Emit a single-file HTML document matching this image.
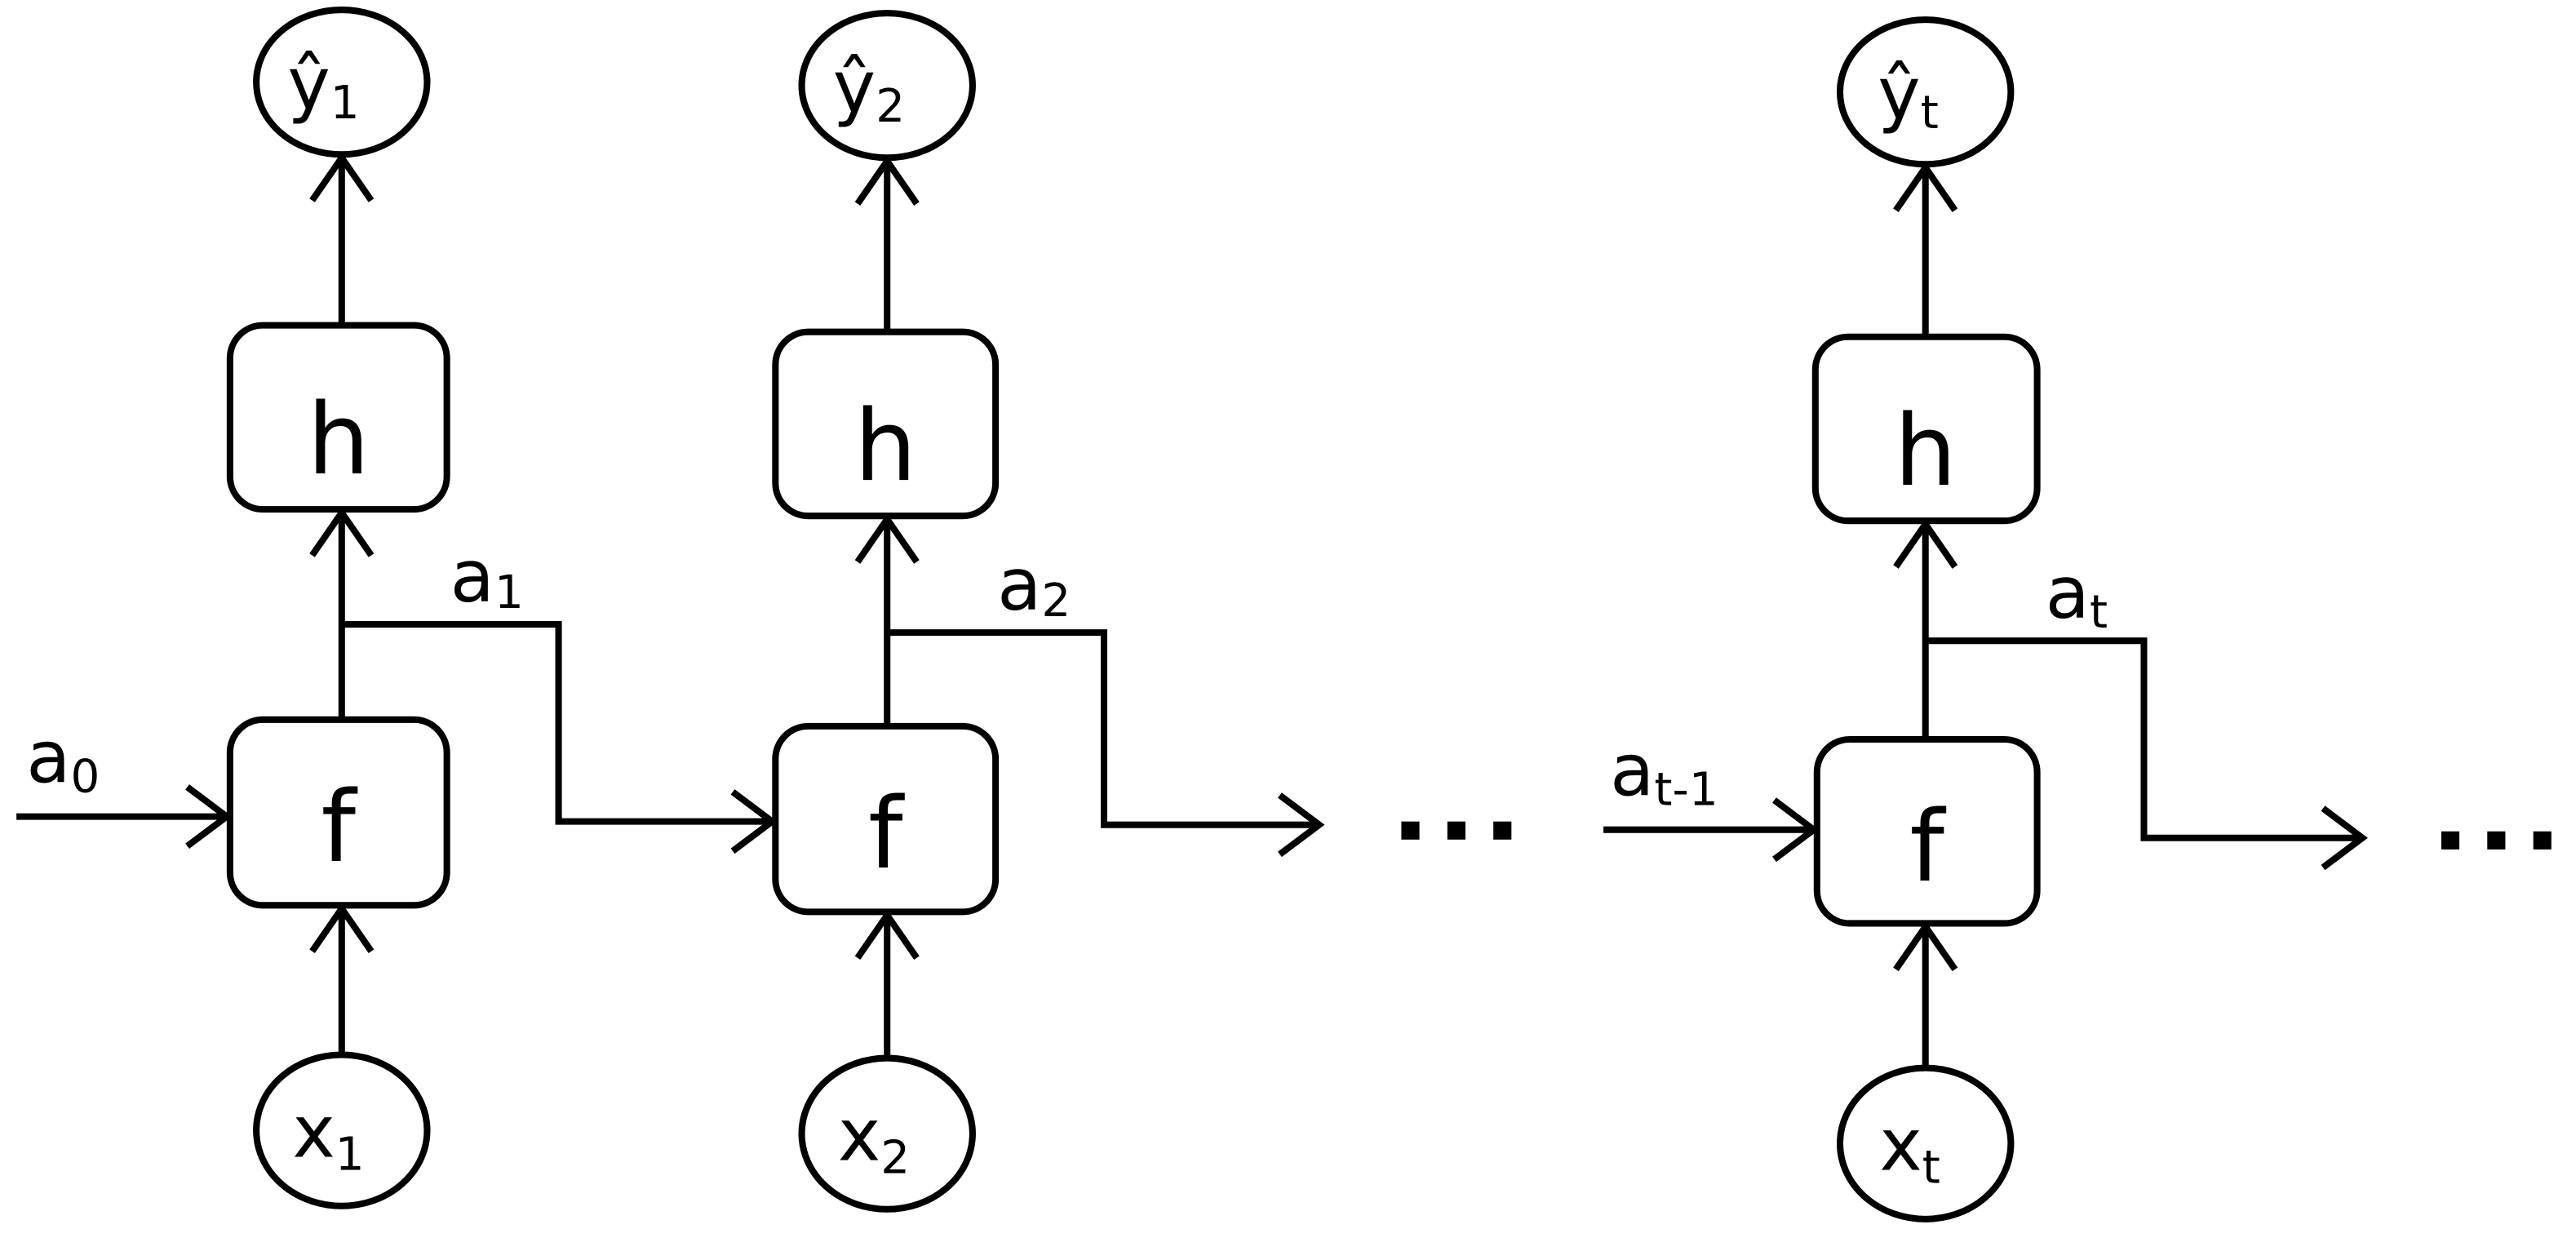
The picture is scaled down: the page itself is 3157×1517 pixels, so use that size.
<!DOCTYPE html>
<html><head><meta charset="utf-8"><style>
html,body{margin:0;padding:0;background:#fff;width:3157px;height:1517px;overflow:hidden}
svg{display:block}
text{font-family:"DejaVu Sans","Liberation Sans",sans-serif;fill:#000}
</style></head><body>
<svg width="3157" height="1517" viewBox="0 0 1568 753.5" preserveAspectRatio="none" xmlns="http://www.w3.org/2000/svg">
<g fill="none" stroke="#000" stroke-width="4">
<!-- column 1 -->
<ellipse cx="208" cy="50" rx="52" ry="44"/>
<rect x="140" y="198" width="132" height="112" rx="20"/>
<rect x="140" y="438" width="132" height="113" rx="20"/>
<ellipse cx="208" cy="688" rx="52" ry="46"/>
<line x1="208" y1="198" x2="208" y2="96"/><polyline points="190,122 208,96 226,122"/>
<line x1="208" y1="438" x2="208" y2="312"/><polyline points="190,338 208,312 226,338"/>
<line x1="208" y1="642" x2="208" y2="553"/><polyline points="190,579 208,553 226,579"/>
<polyline points="208,380 340,380 340,500 470,500"/><polyline points="446,482 470,500 446,518"/>
<line x1="10" y1="497" x2="138" y2="497"/><polyline points="114,479 138,497 114,515"/>
<!-- column 2 -->
<ellipse cx="540" cy="52" rx="52" ry="44"/>
<rect x="472" y="202" width="134" height="112" rx="20"/>
<rect x="472" y="442" width="134" height="113" rx="20"/>
<ellipse cx="540" cy="690" rx="52" ry="46"/>
<line x1="540" y1="202" x2="540" y2="98"/><polyline points="522,124 540,98 558,124"/>
<line x1="540" y1="442" x2="540" y2="316"/><polyline points="522,342 540,316 558,342"/>
<line x1="540" y1="644" x2="540" y2="557"/><polyline points="522,583 540,557 558,583"/>
<polyline points="540,385 672,385 672,502 803,502"/><polyline points="779,484 803,502 779,520"/>
<!-- column 3 -->
<ellipse cx="1172" cy="56" rx="52" ry="44"/>
<rect x="1105" y="205" width="135" height="112" rx="20"/>
<rect x="1106" y="450" width="134" height="112" rx="20"/>
<ellipse cx="1172" cy="696" rx="52" ry="46"/>
<line x1="1172" y1="205" x2="1172" y2="102"/><polyline points="1154,128 1172,102 1190,128"/>
<line x1="1172" y1="450" x2="1172" y2="319"/><polyline points="1154,345 1172,319 1190,345"/>
<line x1="1172" y1="650" x2="1172" y2="564"/><polyline points="1154,590 1172,564 1190,590"/>
<polyline points="1172,390 1305,390 1305,510 1438,510"/><polyline points="1414,492 1438,510 1414,528"/>
<line x1="976" y1="505" x2="1104" y2="505"/><polyline points="1080,487 1104,505 1080,523"/>
</g>
<g fill="#000">
<rect x="853" y="500" width="11" height="11"/><rect x="881" y="500" width="11" height="11"/><rect x="909" y="500" width="11" height="11"/>
<rect x="1486" y="506" width="11" height="11"/><rect x="1514" y="506" width="11" height="11"/><rect x="1542" y="506" width="11" height="11"/>
</g>
<g font-size="60" text-anchor="middle">
<text x="206" y="288">h</text><text x="206" y="524">f</text>
<text x="539" y="292">h</text><text x="539" y="528">f</text>
<text x="1172" y="295">h</text><text x="1173" y="536">f</text>
</g>
<g font-size="44">
<text x="175" y="66">ŷ<tspan font-size="28" dy="6">1</tspan></text>
<text x="507" y="68">ŷ<tspan font-size="28" dy="6">2</tspan></text>
<text x="1143" y="72">ŷ<tspan font-size="28" dy="6">t</tspan></text>
<text x="178" y="704">x<tspan font-size="28" dy="8">1</tspan></text>
<text x="510" y="706">x<tspan font-size="28" dy="8">2</tspan></text>
<text x="1144" y="712">x<tspan font-size="28" dy="8">t</tspan></text>
<text x="274" y="366">a<tspan font-size="28" dy="4">1</tspan></text>
<text x="607" y="371">a<tspan font-size="28" dy="4">2</tspan></text>
<text x="1245" y="376">a<tspan font-size="28" dy="6">t</tspan></text>
<text x="16" y="476">a<tspan font-size="28" dy="6">0</tspan></text>
<text x="980" y="484">a<tspan font-size="28" dy="6">t-1</tspan></text>
</g>
</svg>
</body></html>
